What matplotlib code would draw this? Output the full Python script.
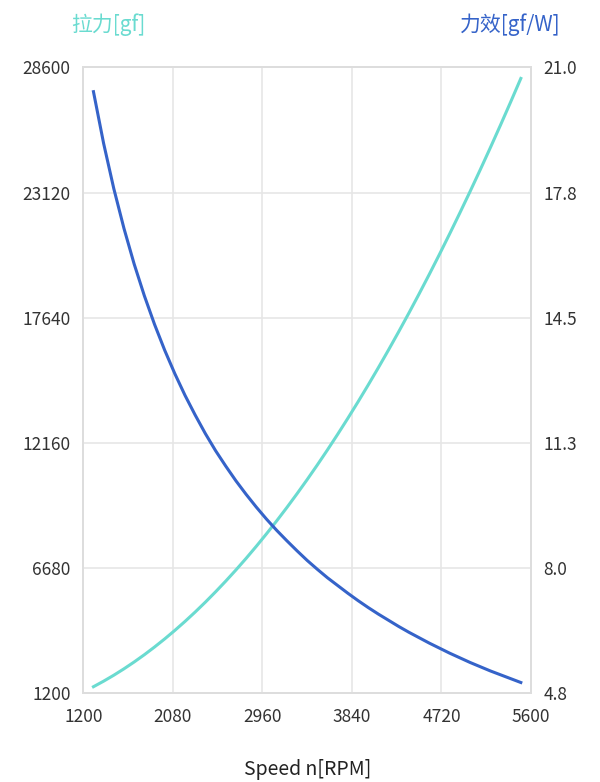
import matplotlib.pyplot as plt

plt.rcParams['font.family'] = ['Noto Sans CJK SC', 'DejaVu Sans']

# speed [RPM]
speed = [1300, 1400, 1500, 1600, 1700, 1800, 1900, 2000, 2100, 2200, 2300,
         2400, 2500, 2600, 2700, 2800, 2900, 3000, 3100, 3200, 3300, 3400,
         3500, 3600, 3700, 3800, 3900, 4000, 4100, 4200, 4300, 4400, 4500,
         4600, 4700, 4800, 4900, 5000, 5100, 5200, 5300, 5400, 5500]
# thrust [gf]
thrust = [1489, 1732, 1993, 2273, 2572, 2889, 3226, 3581, 3955, 4348, 4760,
          5191, 5642, 6111, 6599, 7106, 7633, 8179, 8744, 9328, 9932, 10554,
          11196, 11857, 12538, 13238, 13957, 14696, 15454, 16232, 17029, 17845, 18681,
          19536, 20411, 21306, 22220, 23153, 24106, 25078, 26071, 27083, 28114]
# efficiency [gf/W]
efficiency = [20.37, 19.03, 17.86, 16.83, 15.91, 15.09, 14.35, 13.68, 13.07, 12.51, 12.00,
              11.52, 11.08, 10.68, 10.30, 9.95, 9.62, 9.31, 9.02, 8.75, 8.49, 8.24,
              8.01, 7.79, 7.59, 7.39, 7.20, 7.02, 6.85, 6.69, 6.53, 6.38, 6.24,
              6.10, 5.97, 5.84, 5.72, 5.60, 5.49, 5.38, 5.28, 5.18, 5.08]

x_ticks = [1200, 2080, 2960, 3840, 4720, 5600]
left_ticks = [1200, 6680, 12160, 17640, 23120, 28600]
right_ticks = [4.8, 8.0, 11.3, 14.5, 17.8, 21.0]

teal = '#6adbd0'
blue = '#3563c9'
grid_c = '#e6e6e6'
text_c = '#333333'

fig = plt.figure(figsize=(6, 7.82), dpi=100)
ax = fig.add_axes([0.1388, 0.1134, 0.7462, 0.8005])
ax2 = ax.twinx()

ax.plot(speed, thrust, color=teal, lw=2.2, zorder=3)
ax2.plot(speed, efficiency, color=blue, lw=2.2, zorder=3)

ax.set_xlim(1200, 5600)
ax.set_ylim(1200, 28600)
ax2.set_ylim(4.8, 21.0)

ax.set_xticks(x_ticks)
ax.set_yticks(left_ticks)
# right labels are rounded, the ticks line up with the left grid
ax2.set_yticks([4.8 + i * (21.0 - 4.8) / 5 for i in range(6)])
ax2.set_yticklabels(['%.1f' % v for v in right_ticks])

ax.grid(True, color=grid_c, lw=1.2)
ax.set_axisbelow(True)
for a in (ax, ax2):
    for s in a.spines.values():
        s.set_color('#dddddd')
        s.set_linewidth(1.2)
    a.tick_params(length=0, labelsize=12.5, colors=text_c, pad=9)
ax.tick_params(axis='x', pad=10.5)

ax.set_xlabel('Speed n[RPM]', fontsize=14, color='#222222', labelpad=24)

fig.text(0.18, 0.968, '拉力[gf]', color=teal, fontsize=15, ha='center', va='center')
fig.text(0.85, 0.968, '力效[gf/W]', color=blue, fontsize=15, ha='center', va='center')

fig.savefig('out.png', dpi=100)
